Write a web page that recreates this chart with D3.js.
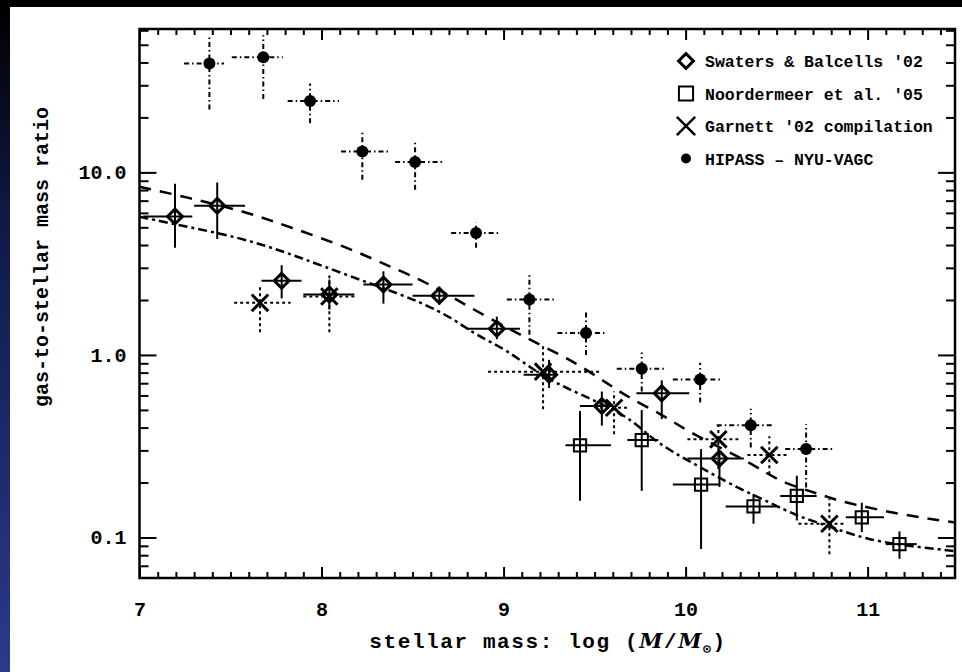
<!DOCTYPE html>
<html>
<head>
<meta charset="utf-8">
<script src="https://cdn.jsdelivr.net/npm/d3@7"></script>
<style>
  html, body { margin: 0; padding: 0; background: #000; }
  svg { display: block; }
  text { font-family: "Liberation Mono", "DejaVu Sans Mono", monospace; font-weight: bold; fill: #000; }
</style>
</head>
<body>
<script>
var width = 962;
var height = 672;

// rows: [logM, ratio, logM low, logM high, ratio low, ratio high]
var swaters = [
  [7.195, 5.73, 7.02, 7.29, 3.86, 8.65],
  [7.427, 6.56, 7.30, 7.58, 4.31, 8.79],
  [7.781, 2.55, 7.67, 7.89, 2.04, 3.10],
  [8.043, 2.14, 7.90, 8.18, 1.77, 2.59],
  [8.340, 2.43, 8.23, 8.50, 1.91, 2.87],
  [8.647, 2.11, 8.50, 8.84, 1.89, 2.37],
  [8.963, 1.39, 8.80, 9.09, 1.22, 1.62],
  [9.250, 0.78, 9.11, 9.30, 0.66, 0.94],
  [9.540, 0.525, 9.42, 9.59, 0.41, 0.63],
  [9.869, 0.616, 9.73, 10.02, 0.445, 0.726],
  [10.186, 0.271, 10.01, 10.32, 0.189, 0.293]
];
var noordermeer = [
  [9.42, 0.320, 9.34, 9.59, 0.159, 0.493],
  [9.759, 0.342, 9.68, 9.85, 0.180, 0.499],
  [10.085, 0.195, 9.93, 10.19, 0.0865, 0.305],
  [10.373, 0.148, 10.22, 10.50, 0.119, 0.173],
  [10.611, 0.169, 10.52, 10.72, 0.124, 0.218],
  [10.968, 0.129, 10.88, 11.09, 0.107, 0.155],
  [11.175, 0.092, 11.10, 11.27, 0.0764, 0.108]
];
var garnett = [
  [7.662, 1.93, 7.52, 7.83, 1.33, 2.38],
  [8.043, 2.09, 7.90, 8.18, 1.33, 2.72],
  [9.217, 0.81, 8.915, 9.53, 0.504, 1.14],
  [9.607, 0.514, 9.53, 9.68, 0.368, 0.631],
  [10.18, 0.345, 10.01, 10.29, 0.237, 0.412],
  [10.46, 0.283, 10.34, 10.56, 0.222, 0.359],
  [10.79, 0.119, 10.62, 10.88, 0.081, 0.162]
];
var hipass = [
  [7.384, 39.5, 7.245, 7.464, 22.1, 54.8],
  [7.68, 42.7, 7.507, 7.787, 25.2, 56.4],
  [7.937, 24.6, 7.814, 8.096, 18.6, 30.7],
  [8.224, 13.0, 8.107, 8.376, 9.1, 16.9],
  [8.514, 11.4, 8.404, 8.669, 8.02, 14.7],
  [8.849, 4.66, 8.712, 8.975, 3.86, 5.32],
  [9.142, 2.01, 9.018, 9.283, 1.29, 2.75],
  [9.453, 1.32, 9.296, 9.562, 1.0, 1.71],
  [9.759, 0.841, 9.622, 9.897, 0.63, 1.03],
  [10.08, 0.734, 9.93, 10.204, 0.548, 0.906],
  [10.358, 0.412, 10.171, 10.482, 0.311, 0.508],
  [10.662, 0.305, 10.547, 10.821, 0.188, 0.417]
];

// model curves
var dashedCurve = [
  [7.0, 8.34], [7.25, 7.35], [7.585, 6.08], [7.821, 5.04], [8.146, 3.87],
  [8.365, 3.08], [8.585, 2.49], [8.9, 1.62], [9.228, 1.10], [9.393, 0.91],
  [9.569, 0.70], [9.684, 0.586], [9.898, 0.456], [9.997, 0.387], [10.321, 0.268],
  [10.426, 0.231], [10.552, 0.196], [10.739, 0.173], [10.838, 0.158], [11.19, 0.133],
  [11.426, 0.123], [11.48, 0.121]
];
var dashDotCurve = [
  [7.0, 5.71], [7.261, 5.04], [7.552, 4.39], [7.794, 3.68], [8.014, 3.05],
  [8.283, 2.43], [8.541, 1.96], [8.734, 1.56], [8.843, 1.29], [9.019, 1.07],
  [9.2, 0.773], [9.42, 0.608], [9.679, 0.467], [9.805, 0.354], [9.931, 0.293],
  [10.08, 0.243], [10.245, 0.196], [10.481, 0.152], [10.602, 0.133], [10.712, 0.122],
  [10.854, 0.109], [10.997, 0.098], [11.178, 0.091], [11.426, 0.0855], [11.48, 0.084]
];

var xMajor = [7, 8, 9, 10, 11];
var yMajor = [0.1, 1, 10];
var legendLabels = ["Swaters & Balcells '02", "Noordermeer et al. '05", "Garnett '02 compilation", "HIPASS \u2013 NYU-VAGC"];

var svg = d3.select("body").append("svg")
      .attr("width", width)
      .attr("height", height);

// background: black top strip and dark blue left strip
var grad = svg.append("defs").append("linearGradient")
      .attr("id", "edge")
      .attr("x1", 0).attr("y1", 0).attr("x2", 0).attr("y2", 1);
grad.append("stop").attr("offset", "0%").attr("stop-color", "#000");
grad.append("stop").attr("offset", "35%").attr("stop-color", "#121a4a");
grad.append("stop").attr("offset", "100%").attr("stop-color", "#2a3a8c");
svg.append("rect").attr("width", width).attr("height", height).attr("fill", "#000");
svg.append("rect").attr("x", 0).attr("y", 0).attr("width", 10).attr("height", height).attr("fill", "url(#edge)");
svg.append("rect").attr("x", 10).attr("y", 7).attr("width", width - 10).attr("height", height - 7).attr("fill", "#fff");

var xScale = d3.scaleLinear().domain([7, 11.48]).range([139.5, 955]);
var yScale = d3.scaleLog().domain([0.06, 61]).range([578, 29]);

var plotLeft = xScale.range()[0], plotRight = xScale.range()[1];
var plotTop = yScale.range()[1], plotBottom = yScale.range()[0];

// minor tick values
var xMinor = d3.range(70, 115).map(d => d / 10).filter(d => xMajor.indexOf(d) < 0);
var yMinor = [];
[0.01, 0.1, 1, 10].forEach(function(dec) {
  for (var k = 2; k <= 9; k++) {
    var v = +(k * dec).toPrecision(3);
    if (v > 0.06 && v < 61) yMinor.push(v);
  }
});

function styleAxis(g) {
  g.select(".domain").remove();
  g.selectAll(".tick line").attr("stroke", "#000").attr("stroke-width", 2);
  g.selectAll("text").style("font-size", "20px");
}

svg.append("g").attr("transform", "translate(0," + plotBottom + ")")
  .call(d3.axisBottom(xScale).tickValues(xMajor).tickSize(-11).tickPadding(24).tickFormat(d3.format("d")))
  .call(styleAxis);
svg.append("g").attr("transform", "translate(0," + plotBottom + ")")
  .call(d3.axisBottom(xScale).tickValues(xMinor).tickSize(-6).tickFormat(""))
  .call(styleAxis);
svg.append("g").attr("transform", "translate(0," + plotTop + ")")
  .call(d3.axisTop(xScale).tickValues(xMajor).tickSize(-11).tickFormat(""))
  .call(styleAxis);
svg.append("g").attr("transform", "translate(0," + plotTop + ")")
  .call(d3.axisTop(xScale).tickValues(xMinor).tickSize(-6).tickFormat(""))
  .call(styleAxis);

svg.append("g").attr("transform", "translate(" + plotLeft + ",0)")
  .call(d3.axisLeft(yScale).tickValues(yMajor).tickSize(-17).tickPadding(13).tickFormat(d3.format(".1f")))
  .call(styleAxis);
svg.append("g").attr("transform", "translate(" + plotLeft + ",0)")
  .call(d3.axisLeft(yScale).tickValues(yMinor).tickSize(-9).tickFormat(""))
  .call(styleAxis);
svg.append("g").attr("transform", "translate(" + plotRight + ",0)")
  .call(d3.axisRight(yScale).tickValues(yMajor).tickSize(-17).tickFormat(""))
  .call(styleAxis);
svg.append("g").attr("transform", "translate(" + plotRight + ",0)")
  .call(d3.axisRight(yScale).tickValues(yMinor).tickSize(-9).tickFormat(""))
  .call(styleAxis);

// frame
svg.append("rect")
  .attr("x", plotLeft).attr("y", plotTop)
  .attr("width", plotRight - plotLeft).attr("height", plotBottom - plotTop)
  .attr("fill", "none").attr("stroke", "#000").attr("stroke-width", 2.5);

// clip for curves and error bars
svg.append("clipPath").attr("id", "plotClip")
  .append("rect").attr("x", plotLeft).attr("y", plotTop)
  .attr("width", plotRight - plotLeft).attr("height", plotBottom - plotTop);
var plot = svg.append("g").attr("clip-path", "url(#plotClip)");

var line = d3.line()
  .x(d => xScale(d[0]))
  .y(d => yScale(d[1]))
  .curve(d3.curveBasis);

plot.append("path").datum(dashedCurve)
  .attr("d", line).attr("fill", "none").attr("stroke", "#000")
  .attr("stroke-width", 2.5).attr("stroke-dasharray", "12,9");
plot.append("path").datum(dashDotCurve)
  .attr("d", line).attr("fill", "none").attr("stroke", "#000")
  .attr("stroke-width", 2.5).attr("stroke-dasharray", "9,4,3,4");

// error bars
function drawBars(rows, dash) {
  var g = plot.append("g").attr("stroke", "#000").attr("stroke-width", 2);
  if (dash) g.attr("stroke-dasharray", dash);
  g.selectAll(".hbar").data(rows).enter().append("line")
    .attr("x1", d => xScale(d[2])).attr("x2", d => xScale(d[3]))
    .attr("y1", d => yScale(d[1])).attr("y2", d => yScale(d[1]));
  g.selectAll(".vbar").data(rows).enter().append("line")
    .attr("x1", d => xScale(d[0])).attr("x2", d => xScale(d[0]))
    .attr("y1", d => yScale(d[4])).attr("y2", d => yScale(d[5]));
}
drawBars(hipass, "5,3,1.5,3");
drawBars(garnett, "3,3");
drawBars(swaters, null);
drawBars(noordermeer, null);

var diamond = d3.symbol(d3.symbolSquare, 110)();
var square = d3.symbol(d3.symbolSquare, 150)();
var cross = d3.symbol(d3.symbolX, 180)();

plot.selectAll(".hip").data(hipass).enter().append("circle")
  .attr("cx", d => xScale(d[0])).attr("cy", d => yScale(d[1]))
  .attr("r", 6).attr("fill", "#000");
plot.selectAll(".swa").data(swaters).enter().append("path")
  .attr("d", diamond)
  .attr("transform", d => "translate(" + xScale(d[0]) + "," + yScale(d[1]) + ") rotate(45)")
  .attr("fill", "none").attr("stroke", "#000").attr("stroke-width", 3);
plot.selectAll(".noo").data(noordermeer).enter().append("path")
  .attr("d", square)
  .attr("transform", d => "translate(" + xScale(d[0]) + "," + yScale(d[1]) + ")")
  .attr("fill", "none").attr("stroke", "#000").attr("stroke-width", 2);
plot.selectAll(".gar").data(garnett).enter().append("path")
  .attr("d", cross)
  .attr("transform", d => "translate(" + xScale(d[0]) + "," + yScale(d[1]) + ")")
  .attr("fill", "none").attr("stroke", "#000").attr("stroke-width", 3);

// legend
var legend = svg.append("g").attr("transform", "translate(686,61)");
var legendRow = 32.5;
legend.append("path").attr("d", d3.symbol(d3.symbolSquare, 110)())
  .attr("transform", "rotate(45)")
  .attr("fill", "#fff").attr("stroke", "#000").attr("stroke-width", 3);
legend.append("path").attr("d", d3.symbol(d3.symbolSquare, 200)())
  .attr("transform", "translate(0," + legendRow + ")")
  .attr("fill", "none").attr("stroke", "#000").attr("stroke-width", 2);
legend.append("path").attr("d", d3.symbol(d3.symbolX, 220)())
  .attr("transform", "translate(0," + (2 * legendRow) + ")")
  .attr("fill", "none").attr("stroke", "#000").attr("stroke-width", 2.5);
legend.append("circle").attr("cx", 0).attr("cy", 3 * legendRow).attr("r", 5).attr("fill", "#000");
legend.selectAll(".lab").data(legendLabels).enter().append("text")
  .attr("x", 19)
  .attr("y", (d, i) => i * legendRow + 6)
  .style("font-size", "16.5px")
  .text(d => d);

// axis titles
var xLabel = svg.append("text")
  .attr("x", 548).attr("y", 648)
  .attr("text-anchor", "middle")
  .style("font-size", "21px")
  .style("letter-spacing", "1.6px");
xLabel.append("tspan").text("stellar mass: log (");
xLabel.append("tspan").style("font-style", "italic").style("font-family", "DejaVu Serif").text("M");
xLabel.append("tspan").text("/");
xLabel.append("tspan").style("font-style", "italic").style("font-family", "DejaVu Serif").text("M");
xLabel.append("tspan").attr("dy", 5).style("font-size", "13px").text("\u2299");
xLabel.append("tspan").attr("dy", -5).text(")");

svg.append("text")
  .attr("transform", "rotate(-90)")
  .attr("x", -257).attr("y", 48)
  .attr("text-anchor", "middle")
  .style("font-size", "20px")
  .text("gas-to-stellar mass ratio");
</script>
</body>
</html>
